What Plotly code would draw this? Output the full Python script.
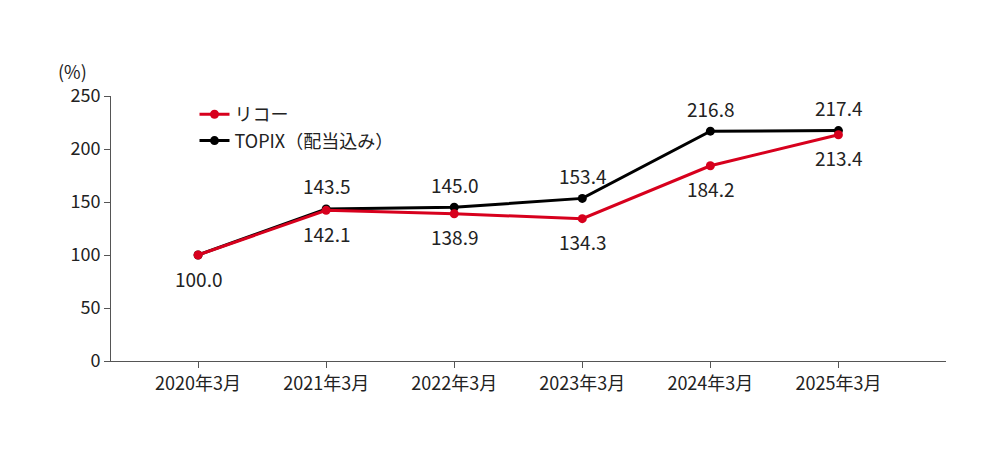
import plotly.graph_objects as go

years = ["2020年3月", "2021年3月", "2022年3月", "2023年3月", "2024年3月", "2025年3月"]
ricoh = [100.0, 142.1, 138.9, 134.3, 184.2, 213.4]
topix = [100.0, 143.5, 145.0, 153.4, 216.8, 217.4]

RED = "#d7001d"
FONT = "Noto Sans CJK JP"

fig = go.Figure()
fig.add_trace(go.Scatter(
    x=years, y=topix, name="TOPIX（配当込み）", mode="lines+markers",
    line=dict(color="black", width=3), marker=dict(size=9, color="black"),
))
fig.add_trace(go.Scatter(
    x=years, y=ricoh, name="リコー", mode="lines+markers",
    line=dict(color=RED, width=3), marker=dict(size=9, color=RED),
))

# value labels: topix above (skip first), ricoh below
for i, (yr, v) in enumerate(zip(years, topix)):
    if i == 0:
        continue
    fig.add_annotation(x=yr, y=v, text=f"{v:.1f}", showarrow=False,
                       yshift=23, font=dict(size=19, color="#222"))
for yr, v in zip(years, ricoh):
    fig.add_annotation(x=yr, y=v, text=f"{v:.1f}", showarrow=False,
                       yshift=-23, font=dict(size=19, color="#222"))

fig.add_annotation(x=0, y=1, xref="paper", yref="paper", text="(%)",
                   showarrow=False, xanchor="right", yanchor="bottom",
                   xshift=-22, yshift=10, font=dict(size=18, color="#222"))

fig.update_layout(
    width=1000, height=456,
    margin=dict(l=110, r=55, t=95, b=96),
    plot_bgcolor="white", paper_bgcolor="white",
    font=dict(family=FONT, size=18, color="#222"),
    showlegend=True,
    legend=dict(x=0.1, y=1.0, xanchor="left", yanchor="top",
                traceorder="reversed", bgcolor="rgba(0,0,0,0)",
                font=dict(size=18)),
    xaxis=dict(range=[-0.68, 5.84], showline=True, linecolor="#555",
               ticks="outside", ticklen=6, tickcolor="#555",
               showgrid=False, tickfont=dict(size=18)),
    yaxis=dict(range=[0, 250], dtick=50, showline=True, linecolor="#555",
               ticks="outside", ticklen=6, tickcolor="#555",
               showgrid=False, zeroline=False, tickfont=dict(size=18)),
)
fig.update_layout(margin=dict(l=103, r=62, t=88, b=103))

fig.write_html("out.html")
